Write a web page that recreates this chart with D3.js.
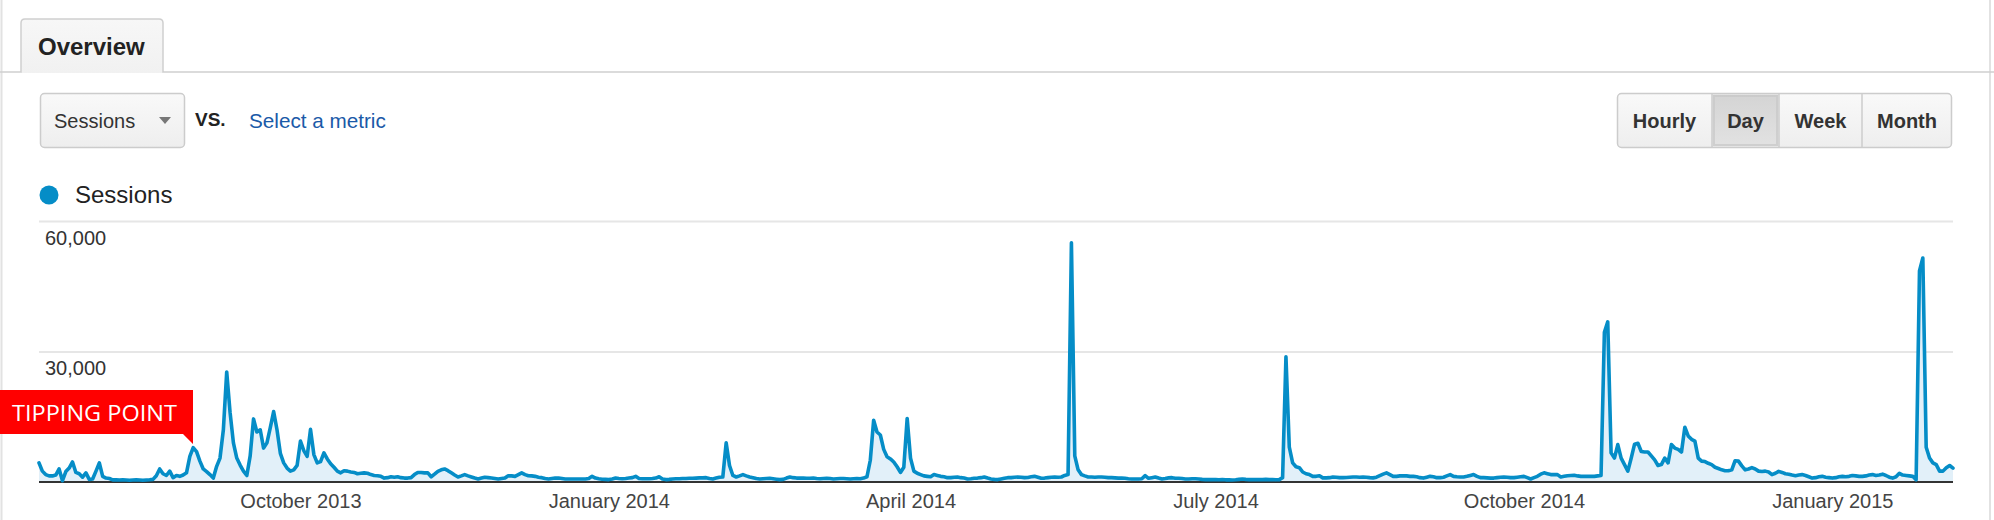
<!DOCTYPE html>
<html>
<head>
<meta charset="utf-8">
<script src="https://cdn.jsdelivr.net/npm/d3@7"></script>
<style>
  html, body { margin: 0; padding: 0; background: #fff; }
  svg { display: block; font-family: "Liberation Sans", Arial, sans-serif; }
</style>
</head>
<body>
<svg id="chart" width="1994" height="520"></svg>
<script>
// ---------- DATA ----------
const startDate = "2013-07-15";           // first day of the daily series
const endDate = "2015-02-06";             // last day of the daily series
const sessions = [
  4400, 2500, 1700, 1400, 1400, 1600, 3000, 300, 2400, 3200,
  4600, 2200, 1900, 1100, 2100, 600, 700, 2500, 4400, 1300,
  900, 800, 500, 500, 450, 500, 450, 400, 450, 500,
  450, 400, 450, 500, 600, 1450, 3000, 1900, 1500, 2500,
  1000, 1500, 1300, 1600, 2100, 5900, 7900, 7000, 4800, 3000,
  2400, 1700, 900, 3600, 5500, 12000, 25300, 16000, 9000, 5500,
  3900, 2500, 1500, 6000, 14500, 11500, 12000, 7800, 9000, 12500,
  16200, 12000, 6600, 4400, 3200, 2500, 2800, 3800, 9400, 7200,
  5900, 12100, 6300, 4400, 4700, 6700, 5300, 4200, 3400, 2500,
  2100, 2600, 2500, 2300, 2200, 1900, 2000, 2100, 2000, 1700,
  1500, 1450, 1300, 900, 1000, 1200, 1100, 1200, 1000, 900,
  900, 1000, 1700, 2200, 2200, 2100, 2100, 1200, 1800, 2450,
  2800, 3000, 2600, 2100, 1600, 1150, 1400, 1700, 1400, 1150,
  900, 700, 900, 1100, 1000, 900, 800, 700, 800, 900,
  1450, 1400, 1300, 1700, 2100, 1700, 1450, 1400, 1300, 1100,
  1000, 800, 700, 800, 900, 900, 800, 700, 700, 700,
  700, 700, 700, 700, 800, 1300, 900, 750, 650, 600,
  550, 700, 900, 800, 750, 800, 900, 1000, 1300, 800,
  750, 750, 750, 800, 900, 1200, 700, 550, 600, 700,
  750, 750, 800, 800, 850, 850, 900, 950, 950, 1000,
  800, 700, 900, 1100, 1150, 9000, 3800, 1500, 1150, 1400,
  1700, 1400, 1150, 1000, 800, 700, 750, 800, 850, 750,
  650, 550, 600, 900, 1150, 1000, 900, 900, 900, 850,
  850, 900, 800, 750, 800, 850, 800, 700, 750, 800,
  800, 750, 700, 750, 800, 750, 900, 1200, 5000, 14200,
  11500, 10800, 7500, 5800, 5300, 4600, 3500, 2200, 3400, 14600,
  5500, 2500, 2000, 1700, 1400, 1300, 1200, 1700, 1500, 1300,
  1200, 1000, 1000, 1100, 1150, 1000, 900, 700, 750, 850,
  900, 1000, 1150, 900, 700, 600, 550, 700, 850, 1000,
  1000, 1100, 1150, 1100, 1000, 1050, 1200, 1300, 1100, 850,
  900, 1000, 1100, 1150, 1100, 1150, 1500, 1700, 55000, 6000,
  2800, 1700, 1400, 1150, 1150, 1100, 1150, 1150, 1100, 1000,
  1000, 950, 900, 900, 850, 750, 700, 700, 700, 750,
  1450, 850, 1000, 1150, 900, 700, 800, 950, 1000, 850,
  850, 800, 700, 700, 750, 750, 700, 600, 550, 550,
  550, 550, 500, 550, 500, 500, 450, 500, 600, 700,
  600, 550, 550, 550, 550, 550, 600, 550, 550, 500,
  550, 1000, 28800, 8000, 4400, 3500, 3300, 2300, 1900, 1700,
  1300, 1300, 1450, 950, 950, 1000, 1150, 1100, 1000, 1000,
  1050, 1100, 1150, 1150, 1100, 1150, 1100, 1000, 950, 1100,
  1450, 1800, 2100, 1700, 1300, 1300, 1400, 1450, 1400, 1300,
  1300, 1200, 1000, 900, 1100, 1300, 1200, 1000, 1000, 1100,
  1400, 1700, 1300, 1200, 1150, 1150, 1300, 1500, 1700, 1300,
  1000, 1000, 950, 900, 900, 1000, 1100, 1150, 1100, 1000,
  1000, 1100, 1200, 1300, 1000, 700, 1000, 1300, 1800, 2100,
  1900, 1700, 1700, 1700, 1150, 1300, 1450, 1500, 1550, 1400,
  1300, 1300, 1300, 1300, 1300, 1400, 1500, 34400, 36800, 6700,
  5500, 8600, 5500, 4000, 2500, 5500, 8700, 8900, 7000, 6900,
  6900, 6000, 5100, 3800, 4000, 5500, 4400, 8600, 7800, 7500,
  6900, 12600, 10600, 9800, 9400, 5500, 4800, 4700, 4300, 4000,
  3400, 3100, 2800, 2600, 2600, 2800, 4900, 4800, 3700, 2800,
  3000, 3300, 3000, 2500, 2400, 2500, 2300, 1700, 2000, 2450,
  2200, 1900, 1800, 1600, 1450, 1600, 1700, 1500, 1200, 900,
  1000, 1200, 1300, 1100, 1000, 900, 1000, 1200, 1300, 1200,
  1300, 1500, 1400, 1300, 1300, 1400, 1600, 1700, 1500, 1600,
  1800, 1500, 1100, 900, 1200, 2000, 1600, 1500, 1400, 1300,
  500, 48500, 51500, 8000, 5500, 4400, 4000, 2500, 2500, 3300,
  3800, 3200
];
const xTickDates = ["2013-10-01", "2014-01-01", "2014-04-01", "2014-07-01", "2014-10-01", "2015-01-01"];
const xTickLabels = ["October 2013", "January 2014", "April 2014", "July 2014", "October 2014", "January 2015"];
const yTicks = [30000, 60000];
const yMax = 60000;
const seriesName = "Sessions";
const periodButtons = ["Hourly", "Day", "Week", "Month"];
const activePeriod = "Day";
const annotationText = "TIPPING POINT";

// ---------- SETUP ----------
const parse = d3.timeParse("%Y-%m-%d");
const t0 = parse(startDate);
const data = sessions.map((v, i) => ({ date: d3.timeDay.offset(t0, i), value: v }));

const svg = d3.select("#chart");
const W = 1994, H = 520;
const plot = { left: 39, right: 1953, top: 221, bottom: 482 };

const x = d3.scaleTime().domain([t0, parse(endDate)]).range([plot.left, plot.right]);
const y = d3.scaleLinear().domain([0, yMax]).range([plot.bottom, plot.top]);

const BLUE = "#058dc7";

// page frame lines
svg.append("line").attr("x1", 1.5).attr("x2", 1.5).attr("y1", 0).attr("y2", H)
  .attr("stroke", "#e2e2e2").attr("stroke-width", 2);
svg.append("line").attr("x1", 1990).attr("x2", 1990).attr("y1", 0).attr("y2", H)
  .attr("stroke", "#e2e2e2").attr("stroke-width", 2);

// ---------- TAB ----------
const defs = svg.append("defs");
const g1 = defs.append("linearGradient").attr("id", "tabGrad").attr("x1", 0).attr("x2", 0).attr("y1", 0).attr("y2", 1);
g1.append("stop").attr("offset", "0%").attr("stop-color", "#f7f7f7");
g1.append("stop").attr("offset", "100%").attr("stop-color", "#f1f1f1");
const g2 = defs.append("linearGradient").attr("id", "btnGrad").attr("x1", 0).attr("x2", 0).attr("y1", 0).attr("y2", 1);
g2.append("stop").attr("offset", "0%").attr("stop-color", "#f9f9f9");
g2.append("stop").attr("offset", "100%").attr("stop-color", "#eeeeee");
const g3 = defs.append("linearGradient").attr("id", "dayGrad").attr("x1", 0).attr("x2", 0).attr("y1", 0).attr("y2", 1);
g3.append("stop").attr("offset", "0%").attr("stop-color", "#d4d4d4");
g3.append("stop").attr("offset", "100%").attr("stop-color", "#e2e2e2");

svg.append("path")
  .attr("d", "M21,73 V23 Q21,19 25,19 H159 Q163,19 163,23 V73 Z")
  .attr("fill", "url(#tabGrad)").attr("stroke", "none");
svg.append("path")
  .attr("d", "M0,72 H21 V23 Q21,19 25,19 H159 Q163,19 163,23 V72 H1994")
  .attr("fill", "none").attr("stroke", "#cfcfcf").attr("stroke-width", 1.5);
svg.append("text").attr("x", 38).attr("y", 55)
  .attr("font-size", 24).attr("font-weight", "bold").attr("fill", "#222")
  .text("Overview");

// ---------- METRIC DROPDOWN ----------
svg.append("rect").attr("x", 40.5).attr("y", 93.5).attr("width", 144).attr("height", 54).attr("rx", 4)
  .attr("fill", "url(#btnGrad)").attr("stroke", "#cccccc").attr("stroke-width", 1.5);
svg.append("text").attr("x", 54).attr("y", 128).attr("font-size", 20).attr("fill", "#333")
  .text(seriesName);
svg.append("path").attr("d", "M159,117 L171,117 L165,124 Z").attr("fill", "#777");
svg.append("text").attr("x", 195).attr("y", 126).attr("font-size", 19).attr("font-weight", "bold").attr("fill", "#222")
  .text("VS.");
svg.append("text").attr("x", 249).attr("y", 128).attr("font-size", 20.7).attr("fill", "#1a5aa8")
  .text("Select a metric");

// ---------- PERIOD BUTTONS ----------
const btnEdges = [1617, 1712, 1779, 1862, 1952];
svg.append("rect").attr("x", 1617.5).attr("y", 93.5).attr("width", 334).attr("height", 54).attr("rx", 4)
  .attr("fill", "url(#btnGrad)").attr("stroke", "#cccccc").attr("stroke-width", 1.5);
periodButtons.forEach((b, i) => {
  const x0 = btnEdges[i], x1 = btnEdges[i + 1];
  if (b === activePeriod) {
    svg.append("rect").attr("x", x0 + 0.5).attr("y", 94.5).attr("width", x1 - x0 - 1).attr("height", 52)
      .attr("fill", "url(#dayGrad)");
    svg.append("rect").attr("x", x0 + 2).attr("y", 96).attr("width", x1 - x0 - 4).attr("height", 49)
      .attr("fill", "none").attr("stroke", "#c8c8c8").attr("stroke-width", 2).attr("opacity", 0.7);
  }
  if (i > 0) {
    svg.append("line").attr("x1", x0).attr("x2", x0).attr("y1", 94).attr("y2", 147)
      .attr("stroke", "#cccccc").attr("stroke-width", 1.5);
  }
  svg.append("text").attr("x", (x0 + x1) / 2).attr("y", 128).attr("text-anchor", "middle")
    .attr("font-size", 20).attr("font-weight", "bold").attr("fill", "#333").text(b);
});

// ---------- LEGEND ----------
svg.append("circle").attr("cx", 49).attr("cy", 195).attr("r", 9.5).attr("fill", BLUE);
svg.append("text").attr("x", 75).attr("y", 203).attr("font-size", 24).attr("fill", "#222").text(seriesName);

// ---------- GRID + Y LABELS ----------
const yAxis = d3.axisRight(y).tickValues(yTicks).tickSize(plot.right - plot.left).tickFormat(d3.format(","));
const yg = svg.append("g").attr("transform", `translate(${plot.left},0)`).call(yAxis);
yg.select(".domain").remove();
yg.selectAll(".tick line").attr("stroke", "#e6e6e6").attr("stroke-width", 2);
yg.selectAll(".tick text")
  .attr("x", 6).attr("dy", 0).attr("y", 23)
  .attr("text-anchor", "start")
  .attr("font-family", "'Liberation Sans', Arial, sans-serif")
  .attr("font-size", 20).attr("fill", "#333");

// ---------- AREA + LINE ----------
const area = d3.area().x(d => x(d.date)).y0(y(0)).y1(d => y(d.value));
const line = d3.line().x(d => x(d.date)).y(d => y(d.value));
svg.append("path").datum(data).attr("d", area).attr("fill", "#e2f0f9");
svg.append("line").attr("x1", plot.left).attr("x2", plot.right).attr("y1", plot.bottom).attr("y2", plot.bottom)
  .attr("stroke", "#333").attr("stroke-width", 2);
svg.append("path").datum(data).attr("d", line)
  .attr("fill", "none").attr("stroke", BLUE).attr("stroke-width", 3.6)
  .attr("stroke-linejoin", "round").attr("stroke-linecap", "round");

// ---------- X AXIS LABELS ----------
const xAxis = d3.axisBottom(x).tickValues(xTickDates.map(parse)).tickSize(0)
  .tickFormat((d, i) => xTickLabels[i]);
const xg = svg.append("g").attr("transform", `translate(0,${plot.bottom})`).call(xAxis);
xg.select(".domain").remove();
xg.selectAll(".tick text").attr("y", 26).attr("dy", 0)
  .attr("font-family", "'Liberation Sans', Arial, sans-serif")
  .attr("font-size", 20).attr("fill", "#444");

// ---------- ANNOTATION ----------
const ann = svg.append("g");
ann.append("path").attr("d", "M0,390 H193 V444 L183,434 H0 Z").attr("fill", "#ff0000");
ann.append("text").attr("x", 12).attr("y", 421)
  .attr("font-family", "'Open Sans', sans-serif").attr("font-size", 22.5).attr("fill", "#fff")
  .attr("textLength", 165).attr("lengthAdjust", "spacingAndGlyphs")
  .text(annotationText);
</script>
</body>
</html>
